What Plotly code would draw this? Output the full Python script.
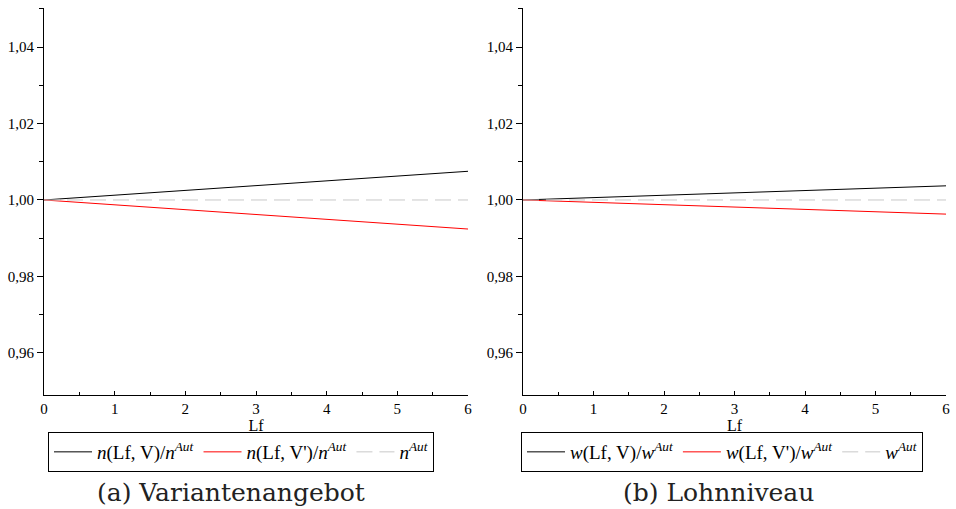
import plotly.graph_objects as go

lf = [0, 1, 2, 3, 4, 5, 6]
n_v = [1.0, 1.00125, 1.0025, 1.00375, 1.005, 1.00625, 1.0075]
n_vp = [1.0, 0.99873, 0.99747, 0.9962, 0.99493, 0.99367, 0.9924]
n_aut = [1.0, 1.0, 1.0, 1.0, 1.0, 1.0, 1.0]
w_v = [1.0, 1.00062, 1.00123, 1.00185, 1.00247, 1.00308, 1.0037]
w_vp = [1.0, 0.99938, 0.99877, 0.99815, 0.99753, 0.99692, 0.9963]
w_aut = [1.0, 1.0, 1.0, 1.0, 1.0, 1.0, 1.0]

yticks = [0.96, 0.98, 1.00, 1.02, 1.04]
yminor = [0.97, 0.99, 1.01, 1.03, 1.05]
xticks = [0, 1, 2, 3, 4, 5, 6]
captions = ["(a) Variantenangebot", "(b) Lohnniveau"]

W, H = 956, 509
serif = "Liberation Serif"

fig = go.Figure()

def add_panel(idx, sym, v, vp, aut, legname):
    xa = "x" if idx == 1 else "x2"
    ya = "y" if idx == 1 else "y2"
    fig.add_trace(go.Scatter(x=lf, y=v, mode="lines", line=dict(color="black", width=1),
                             name=f"<i>{sym}</i>(Lf, V)/<i>{sym}</i><sup><i>Aut</i></sup>",
                             xaxis=xa, yaxis=ya, legend=legname))
    fig.add_trace(go.Scatter(x=lf, y=vp, mode="lines", line=dict(color="#ff0000", width=1),
                             name=f"<i>{sym}</i>(Lf, V')/<i>{sym}</i><sup><i>Aut</i></sup>",
                             xaxis=xa, yaxis=ya, legend=legname))
    fig.add_trace(go.Scatter(x=lf, y=aut, mode="lines",
                             line=dict(color="#c8c8c8", width=1, dash="16px,7px"),
                             name=f"<i>{sym}</i><sup><i>Aut</i></sup>",
                             xaxis=xa, yaxis=ya, legend=legname))

add_panel(1, "n", n_v, n_vp, n_aut, "legend")
add_panel(2, "w", w_v, w_vp, w_aut, "legend2")

ydom = [1 - 395 / H, 1 - 8 / H]
xdoms = [[44 / W, 468 / W], [523 / W, 946 / W]]

def xaxis(dom, anchor):
    return dict(domain=dom, anchor=anchor, range=[0, 6], tickvals=xticks, automargin=False,
                showline=True, linecolor="black", linewidth=1, showgrid=False, zeroline=False,
                ticks="inside", ticklen=4, tickcolor="black", tickwidth=1,
                minor=dict(ticks="inside", ticklen=3, dtick=0.5, tickcolor="black", showgrid=False),
                tickfont=dict(family=serif, size=15, color="black"),
                title=dict(text="Lf", font=dict(family=serif, size=16, color="black"), standoff=0))

def yaxis(anchor):
    return dict(domain=ydom, anchor=anchor, range=[0.949, 1.0502], tickvals=yticks,
                tickformat=".2f", showline=True, linecolor="black", linewidth=1, automargin=False,
                showgrid=False, zeroline=False,
                ticks="outside", ticklen=6, tickcolor="black", tickwidth=1,
                minor=dict(ticks="outside", ticklen=4, tickvals=yminor, tickcolor="black", showgrid=False),
                tickfont=dict(family=serif, size=15, color="black"))

legstyle = dict(orientation="h", xanchor="left", yanchor="top", bordercolor="black",
                borderwidth=1, bgcolor="white",
                font=dict(family=serif, size=19, color="black"),
                tracegroupgap=0, itemwidth=38)

fig.update_layout(
    width=W, height=H, margin=dict(l=0, r=0, t=0, b=0),
    paper_bgcolor="white", plot_bgcolor="white",
    separators=",.",
    xaxis=xaxis(xdoms[0], "y"), yaxis=yaxis("x"),
    xaxis2=xaxis(xdoms[1], "y2"), yaxis2=yaxis("x2"),
    legend=dict(x=48 / W, y=1 - 432 / H, **legstyle),
    legend2=dict(x=521 / W, y=1 - 432 / H, **legstyle),
    showlegend=True,
    annotations=[
        dict(text=captions[0], x=231 / W, y=1 - 492 / H, xref="paper", yref="paper",
             xanchor="center", yanchor="middle",
             showarrow=False, font=dict(family="DejaVu Serif", size=25, color="#222222")),
        dict(text=captions[1], x=718 / W, y=1 - 492 / H, xref="paper", yref="paper",
             xanchor="center", yanchor="middle",
             showarrow=False, font=dict(family="DejaVu Serif", size=25, color="#222222")),
    ],
)

fig.write_html("out.html", config={"displayModeBar": False},
               post_script="document.body.style.margin='0';document.body.style.overflow='hidden';")
